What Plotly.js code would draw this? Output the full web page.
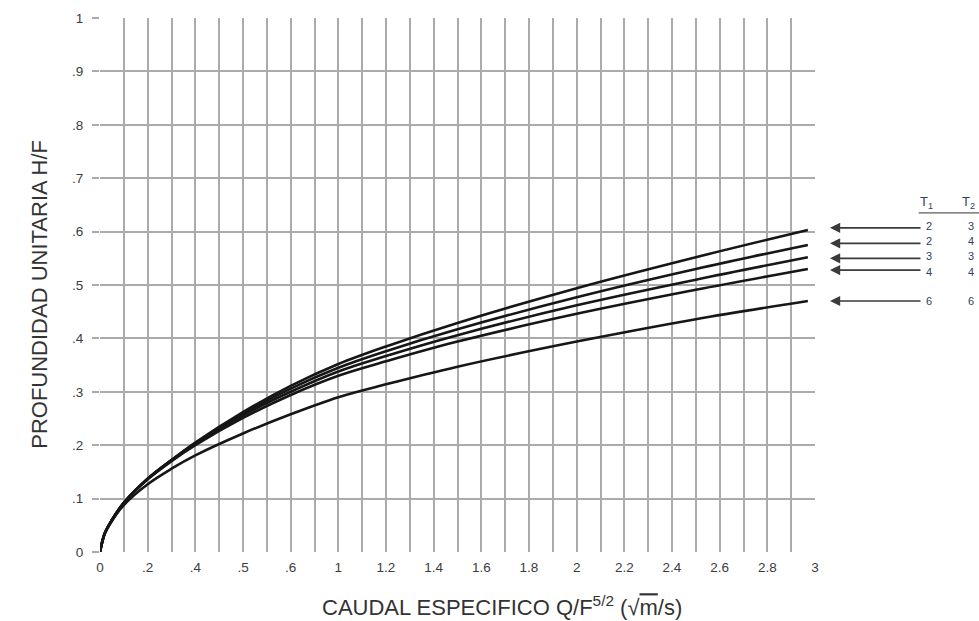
<!DOCTYPE html>
<html>
<head>
<meta charset="utf-8">
<script src="https://cdn.plot.ly/plotly-3.0.1.min.js"></script>
<style>html,body{margin:0;padding:0;background:#fff;}#chart{width:979px;height:621px;}</style>
</head>
<body>
<div id="chart"></div>
<script>
// Data
var xVals = [0, 0.02, 0.05, 0.1, 0.2, 0.3, 0.4, 0.6, 0.8, 1, 1.2, 1.5, 2, 2.5, 2.97];
var curve1 = [0, 0.035, 0.060, 0.092, 0.137, 0.172, 0.205, 0.262, 0.311, 0.352, 0.385, 0.429, 0.494, 0.552, 0.603];
var curve2 = [0, 0.035, 0.060, 0.092, 0.137, 0.172, 0.204, 0.259, 0.306, 0.345, 0.376, 0.417, 0.477, 0.530, 0.575];
var curve3 = [0, 0.035, 0.060, 0.092, 0.137, 0.172, 0.203, 0.256, 0.300, 0.338, 0.367, 0.406, 0.462, 0.510, 0.552];
var curve4 = [0, 0.035, 0.060, 0.092, 0.136, 0.170, 0.200, 0.251, 0.294, 0.330, 0.357, 0.394, 0.446, 0.491, 0.530];
var curve5 = [0, 0.034, 0.058, 0.088, 0.127, 0.156, 0.181, 0.222, 0.258, 0.290, 0.314, 0.347, 0.394, 0.436, 0.470];
var curves = [curve1, curve2, curve3, curve4, curve5];

var arrowLevels = [0.607, 0.578, 0.550, 0.528, 0.470];
var labelLevels = [0.610, 0.582, 0.554, 0.524, 0.470];
var t1Labels = ["2", "2", "3", "4", "6"];
var t2Labels = ["3", "4", "3", "4", "6"];

var xTickVals = [0,0.1,0.2,0.3,0.4,0.5,0.6,0.7,0.8,0.9,1,1.1,1.2,1.3,1.4,1.5,1.6,1.7,1.8,1.9,2,2.1,2.2,2.3,2.4,2.5,2.6,2.7,2.8,2.9,3];
var xTickText = ["0","",".2","",".4","",".5","",".6","","1","","1.2","","1.4","","1.6","","1.8","","2","","2.2","","2.4","","2.6","","2.8","","3"];
var yTickVals = [0,0.1,0.2,0.3,0.4,0.5,0.6,0.7,0.8,0.9,1];
var yTickText = ["0",".1",".2",".3",".4",".5",".6",".7",".8",".9","1"];

var traces = curves.map(function(c){
  return {x: xVals, y: c, type: 'scatter', mode: 'lines',
    line: {color: '#161616', width: 2.6, shape: 'spline', smoothing: 1},
    hoverinfo: 'none', showlegend: false};
});

var FONT = 'Liberation Sans, Arial, Helvetica, sans-serif';
var LEG = '#34405e';
var annotations = [];
arrowLevels.forEach(function(v, i){
  annotations.push({x: 1.021, y: v, xref: 'paper', yref: 'y', ax: 92, ay: 0,
    text: '', showarrow: true, arrowhead: 2, arrowsize: 1.2, arrowwidth: 1.7, arrowcolor: '#3a3a3a'});
  annotations.push({x: 1.166, y: labelLevels[i], xref: 'paper', yref: 'y', text: t1Labels[i], showarrow: false,
    font: {family: FONT, size: 11, color: LEG}});
  annotations.push({x: 1.225, y: labelLevels[i], xref: 'paper', yref: 'y', text: t2Labels[i], showarrow: false,
    font: {family: FONT, size: 11, color: LEG}});
});
annotations.push({x: 1.168, y: 0.655, xref: 'paper', yref: 'y', text: 'T<sub>1</sub>', showarrow: false,
  font: {family: FONT, size: 13, color: LEG}});
annotations.push({x: 1.226, y: 0.655, xref: 'paper', yref: 'y', text: 'T<sub>2</sub>', showarrow: false,
  font: {family: FONT, size: 13, color: LEG}});
// axis titles
annotations.push({x: 0.562, y: 0, xref: 'paper', yref: 'paper', yshift: -54, yanchor: 'middle',
  text: 'CAUDAL ESPECIFICO Q/F<sup>5/2</sup> (√<span style="text-decoration:overline">m</span>/s)',
  showarrow: false, font: {family: FONT, size: 22, color: '#333'}});
annotations.push({x: -0.106, y: 0.483, xref: 'paper', yref: 'paper', textangle: -90,
  text: 'PROFUNDIDAD UNITARIA H/F', showarrow: false, font: {family: FONT, size: 22, color: '#333'}});

var layout = {
  width: 979, height: 621,
  margin: {l: 100, r: 164, t: 18, b: 69},
  paper_bgcolor: '#fff', plot_bgcolor: '#fff',
  font: {family: FONT, color: '#333'},
  xaxis: {
    range: [0, 3], tickmode: 'array', tickvals: xTickVals, ticktext: xTickText,
    showgrid: true, gridcolor: '#ababab', gridwidth: 2, zeroline: false,
    showline: false, ticks: '', ticklabelstandoff: 5, tickfont: {family: FONT, size: 13.5, color: '#3c3c3c'},
    fixedrange: true
  },
  yaxis: {
    range: [0, 1], tickmode: 'array', tickvals: yTickVals, ticktext: yTickText,
    showgrid: true, gridcolor: '#ababab', gridwidth: 2, zeroline: false,
    showline: false, ticks: 'outside', ticklen: 7, tickcolor: '#ababab', tickwidth: 2,
    ticklabelstandoff: 6, tickfont: {family: FONT, size: 13.5, color: '#3c3c3c'},
    fixedrange: true
  },
  shapes: [
    {type: 'line', xref: 'paper', yref: 'y', x0: 1.145, x1: 1.3, y0: 0.635, y1: 0.635, line: {color: '#333', width: 1}}
  ],
  annotations: annotations
};

Plotly.newPlot('chart', traces, layout, {staticPlot: true, displayModeBar: false});
</script>
</body>
</html>
